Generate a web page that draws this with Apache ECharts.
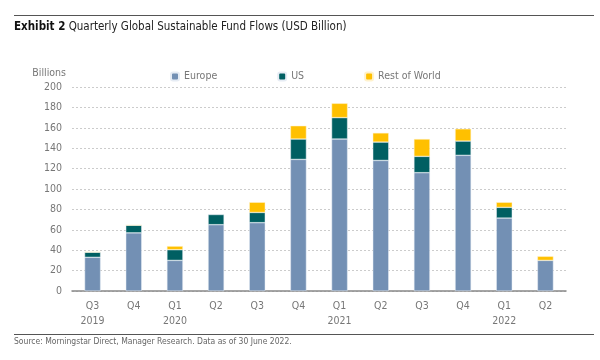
<!DOCTYPE html>
<html><head><meta charset="utf-8">
<script src="https://cdn.jsdelivr.net/npm/echarts@6/dist/echarts.min.js"></script>
<style>html,body{margin:0;padding:0;background:#fff}#c{width:600px;height:360px}</style>
</head><body><div id="c"></div>
<script>
const quarters = ["Q3","Q4","Q1","Q2","Q3","Q4","Q1","Q2","Q3","Q4","Q1","Q2"];
const years    = ["2019","","2020","","","","2021","","","","2022",""];
const europe = [33, 57, 30, 65, 67, 129, 149, 128, 116, 133, 71.5, 30];
const us     = [5, 7.5, 10.5, 10, 10, 20, 21, 18, 16, 14, 10.5, -1.5];
const rest   = [0.5, 0, 3.5, -1, 10, 13, 14, 9, 17, 12, 5, 4];
const yTicks = [0, 20, 40, 60, 80, 100, 120, 140, 160, 180, 200];

const categories = quarters.map((q, i) => years[i] ? q + "\n" + years[i] : q);
const FONT = "'DejaVu Sans Condensed', 'Liberation Sans Narrow', sans-serif";
const chart = echarts.init(document.getElementById('c'));
chart.setOption({
  animation: false,
  textStyle: { fontFamily: FONT },
  grid: { left: 72, right: 34, top: 87, bottom: 69 },
  legend: {
    top: 66, left: 165, itemWidth: 8, itemHeight: 8, itemGap: 60,
    textStyle: { fontFamily: FONT, fontSize: 10.5, color: '#777' },
    data: ['Europe', 'US', 'Rest of World']
  },
  xAxis: {
    type: 'category', data: categories,
    axisLine: { lineStyle: { color: '#888', width: 1.5 } },
    axisTick: { show: false },
    axisLabel: { color: '#777', fontSize: 10.5, lineHeight: 15, margin: 8, fontFamily: FONT }
  },
  yAxis: {
    type: 'value', min: yTicks[0], max: yTicks[yTicks.length - 1], interval: 20,
    name: 'Billions', nameLocation: 'end', nameGap: 8,
    nameTextStyle: { color: '#777', fontSize: 10.5, align: 'right', padding: [0, 6, 0, 0], fontFamily: FONT },
    axisLine: { show: false }, axisTick: { show: false },
    axisLabel: { color: '#777', fontSize: 10.5, margin: 10, fontFamily: FONT },
    splitLine: { lineStyle: { color: '#ccc', type: [2, 2] } }
  },
  series: [
    { name: 'Europe', type: 'bar', stack: 't', data: europe, barWidth: 16, itemStyle: { color: '#7390B4', borderColor: '#e6ecf4', borderWidth: 0.5 } },
    { name: 'US', type: 'bar', stack: 't', data: us, barWidth: 16, itemStyle: { color: '#005F62', borderColor: '#e6ecf4', borderWidth: 0.5 } },
    { name: 'Rest of World', type: 'bar', stack: 't', data: rest, barWidth: 16, itemStyle: { color: '#FFC000', borderColor: '#fff2cc', borderWidth: 0.5 } }
  ],
  graphic: [
    { type: 'line', shape: { x1: 14, y1: 15.5, x2: 594, y2: 15.5 }, style: { stroke: '#555', lineWidth: 1.2 } },
    { type: 'text', left: 14, top: 21, style: {
        text: '{b|Exhibit 2} Quarterly Global Sustainable Fund Flows (USD Billion)',
        font: "11.5px " + FONT, fill: '#222',
        rich: { b: { fontWeight: 'bold', fontSize: 11.5, fontFamily: FONT, fill: '#111' } } } },
    { type: 'line', shape: { x1: 14, y1: 334.5, x2: 594, y2: 334.5 }, style: { stroke: '#555', lineWidth: 1 } },
    { type: 'text', left: 14, top: 337, style: {
        text: 'Source: Morningstar Direct, Manager Research. Data as of 30 June 2022.',
        font: "8.5px " + FONT, fill: '#666' } }
  ]
});
</script></body></html>
